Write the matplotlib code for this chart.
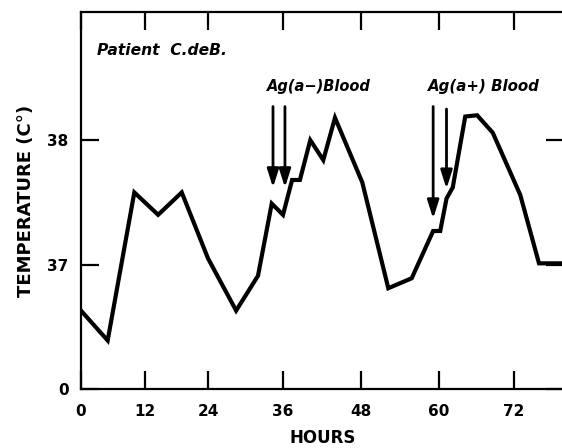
import numpy as np
import matplotlib
matplotlib.use("Agg")
import matplotlib.pyplot as plt

# Temperature record, patient C.deB.
hours = [0, 5, 10, 14.5, 19, 24, 28.5, 32, 34.2, 36, 37.4, 38.6, 40.2, 42.2,
         44, 48.2, 52.2, 55.8, 59.1, 60.2, 61.2, 62.2, 64.2, 66.1, 68.6,
         73, 76, 80]
temp = [36.63, 36.39, 37.58, 37.40, 37.58, 37.05, 36.63, 36.91, 37.49, 37.40,
        37.68, 37.68, 38.00, 37.84, 38.18, 37.66, 36.81, 36.89, 37.27, 37.27,
        37.53, 37.62, 38.19, 38.20, 38.06, 37.56, 37.01, 37.01]

# transfusion arrows: (hour, top, tip)
arrow_hours = [34.4, 36.3, 59.1, 61.2]
arrow_top = [38.27, 38.27, 38.27, 38.25]
arrow_tip = [37.62, 37.62, 37.37, 37.61]

xticks = [0, 12, 24, 36, 48, 60, 72]
yticks = [36, 37, 38]
ytick_labels = ["0", "37", "38"]

# hand-drawn axis: tick spacing is not uniform on the original
tick_hours = [-12, 0, 12, 24, 36, 48, 60, 72, 96]
tick_paper = [17, 81, 145, 208, 283, 361, 439, 514, 664]


def fwd(h):
    return np.interp(h, tick_hours, tick_paper)


def inv(p):
    return np.interp(p, tick_paper, tick_hours)


fig = plt.figure(figsize=(5.62, 4.48), dpi=100)
ax = fig.add_axes([81 / 562, 59 / 448, 483 / 562, 377 / 448])
ax.set_xscale("function", functions=(fwd, inv))

ax.plot(hours, temp, color="black", lw=3, solid_joinstyle="miter")

for h, top, tip in zip(arrow_hours, arrow_top, arrow_tip):
    ax.annotate("", xy=(h, tip), xytext=(h, top),
                arrowprops=dict(arrowstyle="-|>,head_length=1.1,head_width=0.35",
                                mutation_scale=10, lw=2, color="black",
                                shrinkA=0, shrinkB=0))

ax.text(3, 38.72, "Patient  C.deB.", fontsize=11.2, fontstyle="italic",
        fontweight="bold", ha="left", va="center")
ax.text(33.5, 38.43, "Ag(a\u2212)Blood", fontsize=10.5, fontstyle="italic",
        fontweight="bold", ha="left", va="center")
ax.text(58.3, 38.43, "Ag(a+) Blood", fontsize=10.8, fontstyle="italic",
        fontweight="bold", ha="left", va="center")

ax.set_xlim(0, 80)
ax.set_ylim(36, 39.03)
ax.set_xticks(xticks)
ax.set_yticks(yticks)
ax.set_yticklabels(ytick_labels)
for lab in ax.get_xticklabels() + ax.get_yticklabels():
    lab.set_fontweight("bold")

ax.spines["right"].set_visible(False)
for s in ["left", "bottom", "top"]:
    ax.spines[s].set_linewidth(1.6)

ax.tick_params(axis="both", direction="in", length=13, width=1.6,
               top=True, right=True, labelsize=11, pad=11)
ax.tick_params(axis="y", pad=9)

ax.set_xlabel("HOURS", fontsize=12, fontweight="bold", labelpad=7)
ax.set_ylabel("TEMPERATURE (C\u00b0)", fontsize=13, fontweight="bold",
              labelpad=9)

fig.savefig("out.png", dpi=100)
